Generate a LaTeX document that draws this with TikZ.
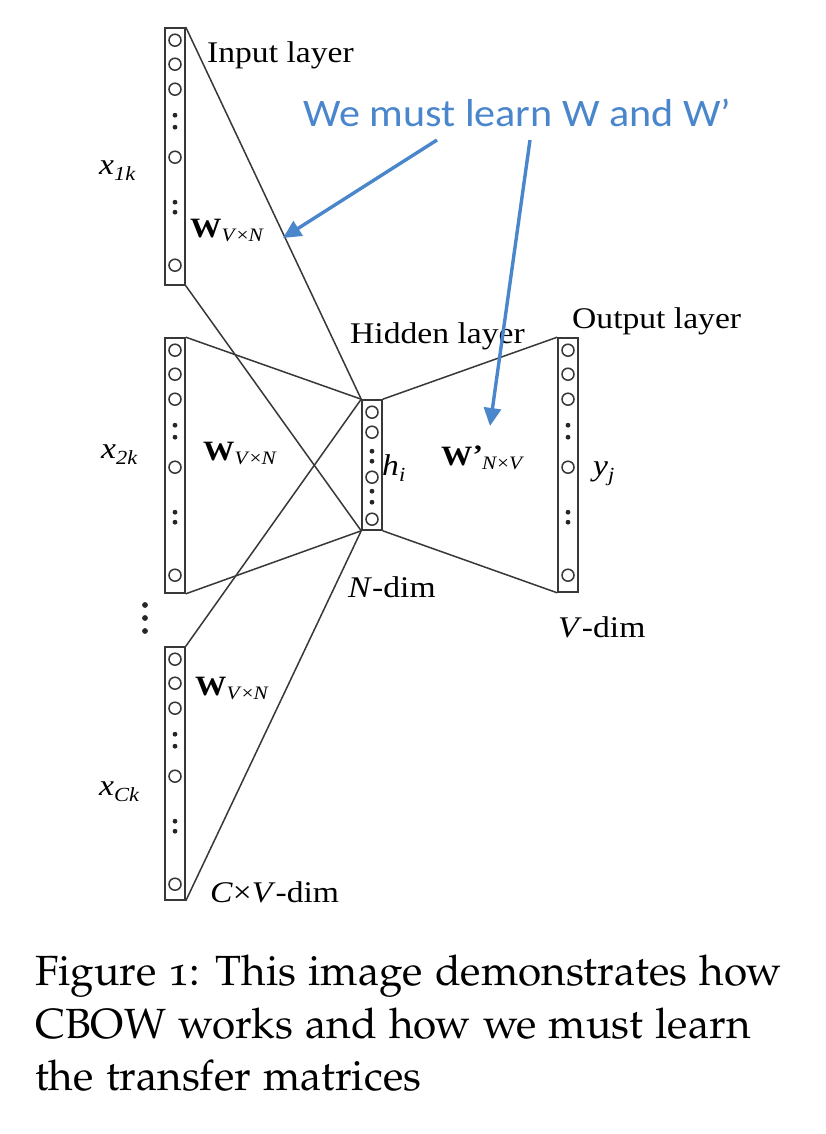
\documentclass[tikz,border=0pt]{standalone}
\usepackage{fontspec}
\usetikzlibrary{arrows.meta}
\newfontfamily\tms[FakeStretch=1.12]{Liberation Serif}
\newfontfamily\blufont[FakeStretch=1.08]{Carlito}
\definecolor{annblue}{RGB}{74,134,204}
\newcommand\lsub[2]{#1\raisebox{-6pt}{\fontsize{20}{20}\selectfont #2}}
\newcommand\wsub[1]{\raisebox{-4pt}{\fontsize{19}{19}\selectfont #1}}
\newcommand\capfont{\fontencoding{OT1}\fontfamily{pplj}\fontsize{42.2}{52}\selectfont}
\begin{document}
\begin{tikzpicture}[x=1pt,y=-1pt,
  layer/.style={draw=black!78,line width=1.6pt,minimum width=20pt,inner sep=0pt},
  unit/.style={draw=black!78,line width=1.5pt},
  conn/.style={draw=black!78,line width=1.5pt},
  lbl/.style={inner sep=0pt,anchor=base west,font=\tms\fontsize{30}{30}\selectfont},
  wlbl/.style={inner sep=0pt,anchor=base west,font=\tms\fontsize{28}{28}\selectfont},
  ann/.style={draw=annblue,line width=3.4pt,-{Triangle[length=18pt,width=17pt]}},
  captxt/.style={inner sep=0pt,anchor=base west,font=\capfont}
]
\useasboundingbox (0,0) rectangle (826,1134);
\fill[white] (0,0) rectangle (826,1134);

% layers
\node[layer,minimum height=257pt] (in1) at (175,156.5) {};
\node[layer,minimum height=255pt] (in2) at (175,465.5) {};
\node[layer,minimum height=253pt] (in3) at (175,773.5) {};
\node[layer,minimum height=130pt] (hid) at (372,465) {};
\node[layer,minimum height=254pt] (out) at (568,465) {};

% units
\foreach \c in {in1,in2,in3,out}{
  \foreach \o in {13,37,62,130,238}
    \draw[unit] ([yshift=-\o pt]\c.north) circle (6);
  \foreach \o in {88,100,175,185}
    \fill[black!85] ([yshift=-\o pt]\c.north) circle (2.4);
}
\foreach \o in {13,33,78,120}
  \draw[unit] ([yshift=-\o pt]hid.north) circle (6);
\foreach \o in {52,62,92,103}
  \fill[black!85] ([yshift=-\o pt]hid.north) circle (2.4);

% connectors
\draw[conn] (in1.north east) -- (hid.north west);
\draw[conn] (in1.south east) -- (hid.south west);
\draw[conn] (in2.north east) -- (hid.north west);
\draw[conn] (in2.south east) -- (hid.south west);
\draw[conn] (in3.north east) -- (hid.north west);
\draw[conn] (in3.south east) -- (hid.south west);
\draw[conn] (hid.north east) -- (out.north west);
\draw[conn] (hid.south east) -- (out.south west);

% vertical ellipsis
\foreach \y in {605,618,631}
  \fill[black!85] (145,\y) circle (2.9);

% labels
\node[lbl] (lin) at (207,63) {Input layer};
\node[lbl] (lhid) at (350,343) {Hidden layer};
\node[lbl] (lout) at (572,328) {Output layer};
\node[lbl] (ndim) at (348,597) {\textit{N}-dim};
\node[lbl] (vdim) at (558,637) {\textit{V}-dim};
\node[lbl] (cvdim) at (210,902) {\textit{C}×\textit{V}-dim};

\node[lbl] (x1) at (99,175) {\lsub{\textit{x}}{\textit{1k}}};
\node[lbl] (x2) at (101,458) {\lsub{\textit{x}}{\textit{2k}}};
\node[lbl] (x3) at (99,795) {\lsub{\textit{x}}{\textit{Ck}}};

\node[wlbl] (w1) at (190,237) {\textbf{W}\wsub{\textit{V}×\textit{N}}};
\node[wlbl] (w2) at (203,460) {\textbf{W}\wsub{\textit{V}×\textit{N}}};
\node[wlbl] (w3) at (195,695) {\textbf{W}\wsub{\textit{V}×\textit{N}}};
\node[wlbl] (wp) at (441,465) {\textbf{W}\raisebox{1pt}{\textbf{’}}\kern-1pt\wsub{\textit{N}×\textit{V}}};

\node[lbl] (h) at (382,475) {\lsub{\textit{h}}{\textit{i}}};
\node[lbl] (y) at (593,475) {\lsub{\textit{y}}{\textit{j}}};

% annotation
\node[inner sep=0pt,anchor=base west,text=annblue,font=\blufont\fontsize{39}{39}\selectfont] (note) at (303,127) {We must learn W and W’};
\coordinate (a1s) at (437,140);
\coordinate (a1e) at (283,238);
\coordinate (a2s) at (530,140);
\coordinate (a2e) at (490,426);
\draw[ann] (a1s) -- (a1e);
\draw[ann] (a2s) -- (a2e);

% caption
\node[captxt] (c1) at (35,985) {Figure 1: This image demonstrates how};
\node[captxt] (c2) at (35,1038) {CBOW works and how we must learn};
\node[captxt] (c3) at (35,1090) {the transfer matrices};
\end{tikzpicture}
\end{document}
